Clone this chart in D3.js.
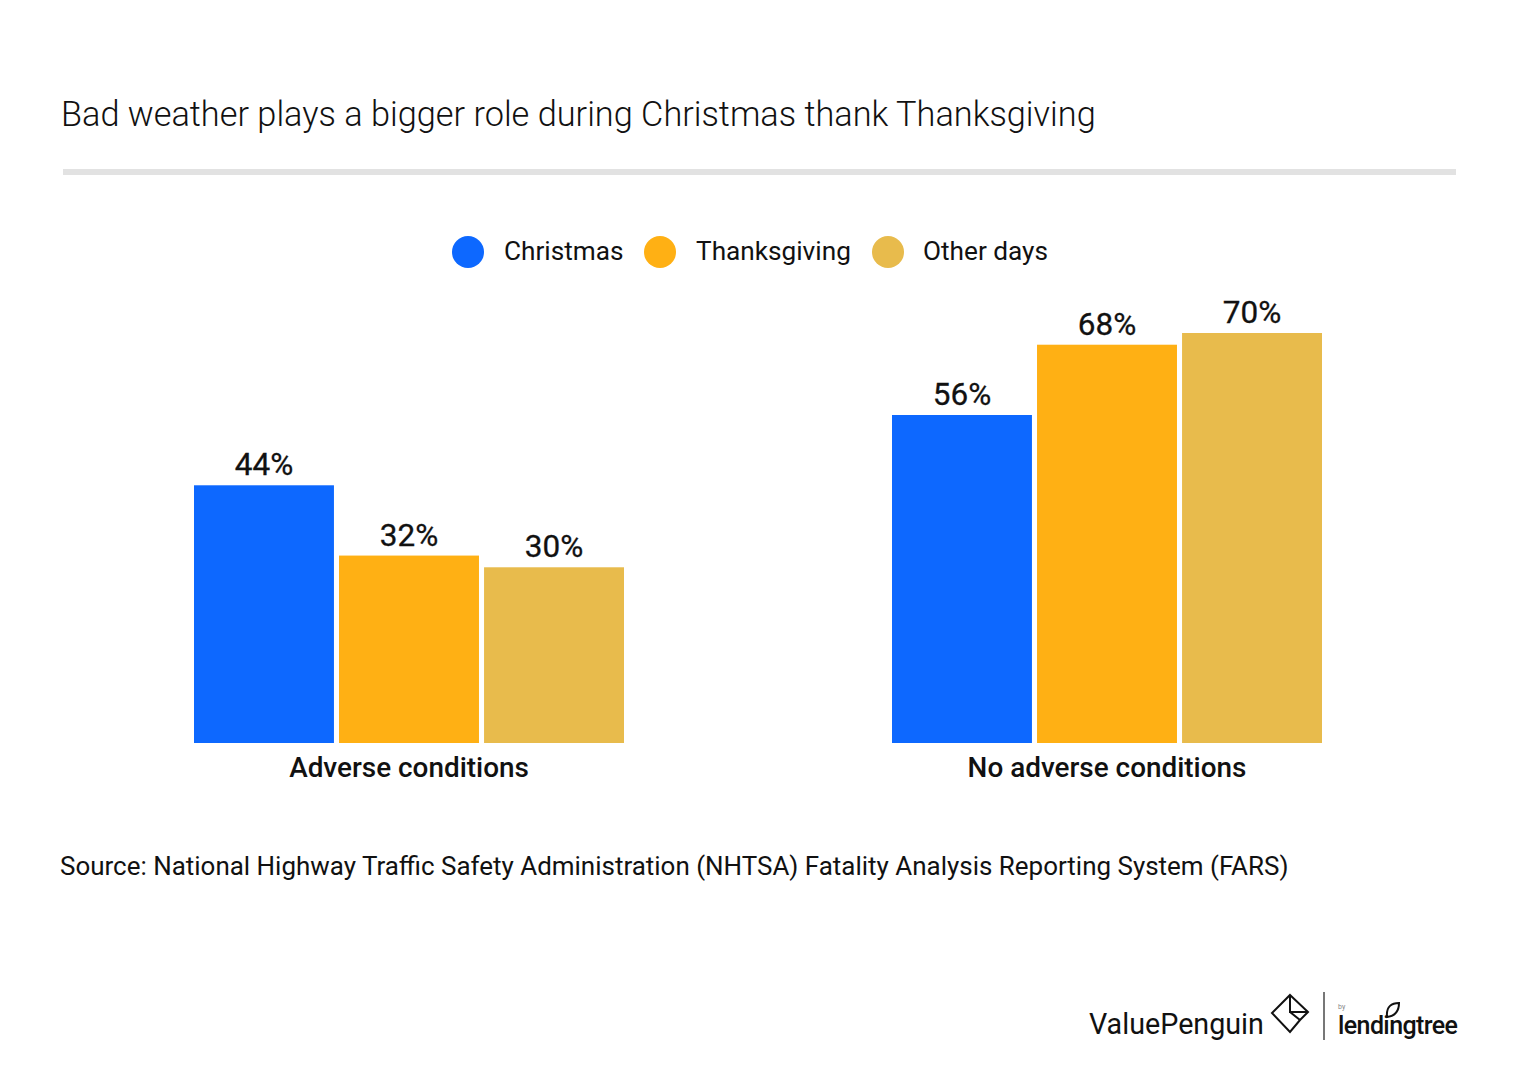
<!DOCTYPE html>
<html>
<head>
<meta charset="utf-8">
<script src="https://cdn.jsdelivr.net/npm/d3@7"></script>
<style>
  html, body { margin: 0; padding: 0; background: #fff; }
  text { font-family: Roboto, sans-serif; fill: #111; }
</style>
</head>
<body>
<svg id="chart" width="1520" height="1072"></svg>
<script>
"use strict";

// Data
var conditions = ["Adverse conditions", "No adverse conditions"];
var periods = ["Christmas", "Thanksgiving", "Other days"];
var christmas = [44, 56];
var thanksgiving = [32, 68];
var otherDays = [30, 70];
var colours = ["#0d68ff", "#ffb014", "#e8bb4c"];
var legendX = [468, 660, 888];
var legendLabelX = [504, 696, 923];

var titleText = "Bad weather plays a bigger role during Christmas thank Thanksgiving";
var sourceText = "Source: National Highway Traffic Safety Administration (NHTSA) Fatality Analysis Reporting System (FARS)";

var svg = d3.select("#chart");
var baseline = 743;

// Scales
var x0 = d3.scaleBand().domain(conditions).range([60, 1456]);
var x1 = d3.scaleBand().domain(periods).range([-215, 215]).paddingInner(0.035).paddingOuter(0);
var y = d3.scaleLinear().domain([0, 70]).range([baseline, 333]);
var colour = d3.scaleOrdinal().domain(periods).range(colours);

// Title and rule
svg.append("text").attr("x", 61).attr("y", 126)
  .style("font-size", "34.3px").style("font-weight", 300)
  .text(titleText);

svg.append("rect").attr("x", 63).attr("y", 169)
  .attr("width", 1393).attr("height", 6).attr("fill", "#e2e2e2");

// Legend
periods.forEach(function(p, i) {
  svg.append("circle").attr("cx", legendX[i]).attr("cy", 252).attr("r", 16).attr("fill", colour(p));
  svg.append("text").attr("x", legendLabelX[i]).attr("y", 260)
    .style("font-size", "26.2px").text(p);
});

// Bars
var rows = periods.map(function(p, i) {
  return { period: p, values: [christmas, thanksgiving, otherDays][i] };
});

var groups = svg.selectAll("g.cond").data(conditions).enter().append("g")
  .attr("class", "cond")
  .attr("transform", function(c) { return "translate(" + (x0(c) + x0.bandwidth() / 2) + ",0)"; });

groups.each(function(c, ci) {
  var g = d3.select(this);
  rows.forEach(function(r) {
    var v = r.values[ci];
    g.append("rect")
      .attr("x", x1(r.period))
      .attr("y", y(v))
      .attr("width", x1.bandwidth())
      .attr("height", baseline - y(v))
      .attr("fill", colour(r.period));
    g.append("text")
      .attr("x", x1(r.period) + x1.bandwidth() / 2)
      .attr("y", y(v) - 10)
      .attr("text-anchor", "middle")
      .style("font-size", "31.5px").style("font-weight", 400)
      .style("stroke", "#111").style("stroke-width", "0.3px")
      .text(v + "%");
  });
  g.append("text").attr("x", 0).attr("y", 777)
    .attr("text-anchor", "middle")
    .style("font-size", "27.9px").style("font-weight", 500)
    .text(c);
});

// Source
svg.append("text").attr("x", 60).attr("y", 875)
  .style("font-size", "25.96px").style("font-weight", 400)
  .text(sourceText);

// Logos
svg.append("text").attr("x", 1089).attr("y", 1034)
  .style("font-size", "28.7px").style("font-weight", 400)
  .text("ValuePenguin");

var mark = svg.append("g").attr("fill", "none").attr("stroke", "#111").attr("stroke-width", 2);
mark.append("path").attr("d", "M1290 995 L1308 1012 L1300 1020 L1290 1032 L1272 1013 Z");
mark.append("path").attr("d", "M1290 995 L1290 1012 L1308 1012 M1290 1012 L1300 1020");

svg.append("rect").attr("x", 1323).attr("y", 992).attr("width", 2).attr("height", 48).attr("fill", "#777");

svg.append("text").attr("x", 1338).attr("y", 1009).style("font-size", "7px").style("fill", "#888").text("by");
svg.append("text").attr("x", 1338).attr("y", 1034)
  .style("font-size", "25px").style("font-weight", 500).style("letter-spacing", "-0.6px")
  .text("lendingtree");
svg.append("path").attr("d", "M1387 1017 C1386 1006 1392 1003 1399 1003 C1399 1012 1395 1016 1387 1017 Z")
  .attr("fill", "none").attr("stroke", "#111").attr("stroke-width", 2);
</script>
</body>
</html>
